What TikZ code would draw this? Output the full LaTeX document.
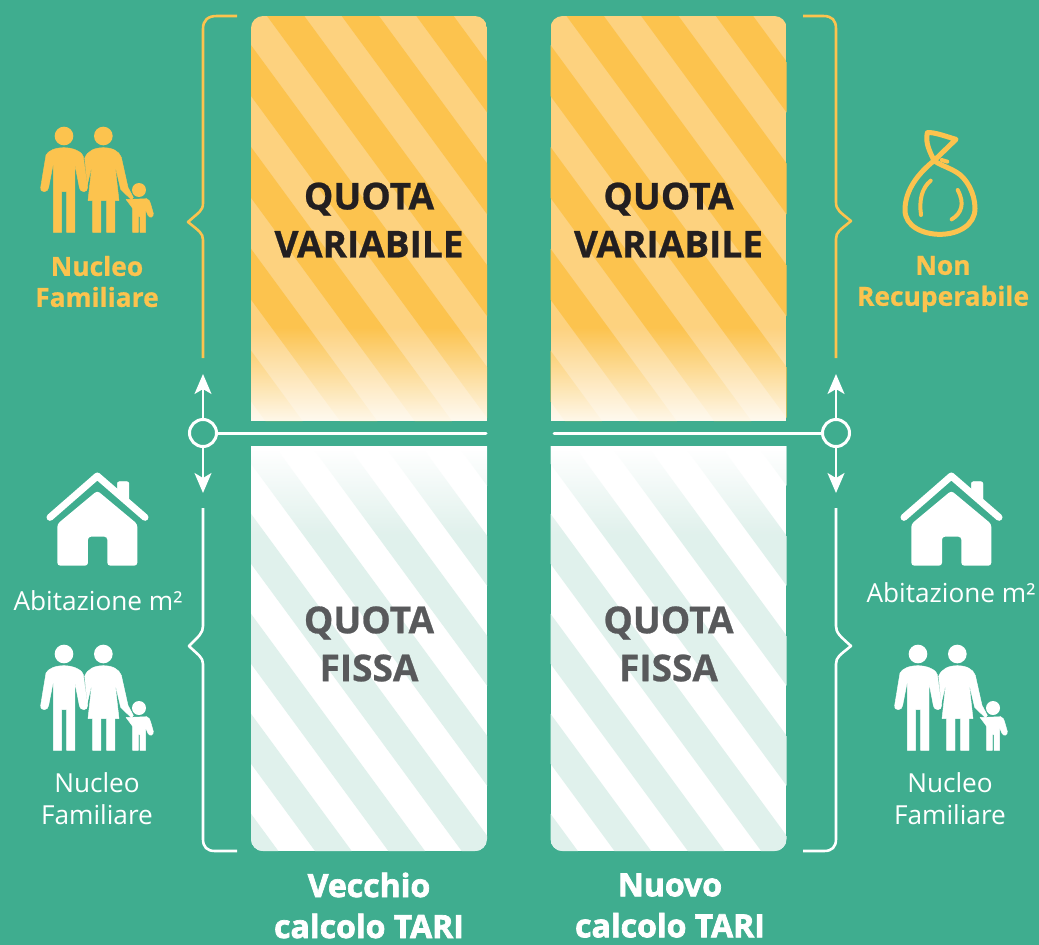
\documentclass[tikz,border=0pt]{standalone}
\usepackage{fontspec}
\setmainfont{Open Sans}
\newfontfamily\xbold[FakeBold=2.2]{Open Sans Bold}
\newfontfamily\mbold[FakeBold=0.7]{Open Sans Bold}
\usetikzlibrary{arrows.meta}
\definecolor{bgG}{HTML}{3FAD8F}
\definecolor{ylw}{HTML}{FCC34E}
\definecolor{ylwL}{HTML}{FDD27F}
\definecolor{tnt}{HTML}{E0F1EC}
\definecolor{grayT}{HTML}{58595B}
\definecolor{darkT}{HTML}{231F20}
\tikzset{
  bline/.style={line width=2.6pt,line join=round,line cap=butt},
  iconfill/.style={fill=#1,draw=#1,line width=0.4pt,line join=round},
  qlabel/.style={align=center,inner sep=0pt,font=\fontsize{37}{48}\selectfont\mbold},
  ftitle/.style={align=center,inner sep=0pt,text=white,font=\fontsize{32}{41}\selectfont\xbold},
  ylabel/.style={align=center,inner sep=0pt,text=ylw,font=\fontsize{26.4}{31}\selectfont\mbold},
  wlabel/.style={align=center,inner sep=0pt,text=white,font=\fontsize{26.2}{32}\selectfont},
  ring/.style={circle,draw=white,line width=3pt,minimum size=27pt,inner sep=0pt},
  conn/.style={draw=white,line width=3pt,line cap=round},
  arr/.style={draw=white,line width=2pt,-{Stealth[length=20pt,width=17pt,inset=5pt]}},
}
\newcommand{\topcard}[1]{%
 \begin{scope}[shift={(#1,0)}]
  \begin{scope}
   \clip (251,421) -- (251,28) arc[start angle=180,end angle=90,x radius=12,y radius=-12] -- (475,16)
     arc[start angle=90,end angle=0,x radius=12,y radius=-12] -- (487,421) -- cycle;
   \fill[ylwL] (251,16) rectangle (487,421);
   \foreach \k in {-5,...,3}{
     \pgfmathsetmacro{\xa}{267+74.67*\k}
     \fill[ylw] (\xa,16) -- (\xa+37.33,16) -- (\xa+37.33+297,421) -- (\xa+297,421) -- cycle;
   }
   \foreach \yy in {327,...,420}{
     \pgfmathsetmacro{\op}{0.88*(\yy-327)/94}
     \fill[white,opacity=\op] (251,\yy) rectangle (487,\yy+1);
   }
  \end{scope}
 \end{scope}}
\newcommand{\botcard}[1]{%
 \begin{scope}[shift={(#1,0)}]
  \begin{scope}
   \clip (251,446) -- (251,839) arc[start angle=180,end angle=270,x radius=12,y radius=-12] -- (475,851)
     arc[start angle=270,end angle=360,x radius=12,y radius=-12] -- (487,446) -- cycle;
   \fill[white] (251,446) rectangle (487,851);
   \foreach \k in {-1,...,7}{
     \pgfmathsetmacro{\xa}{315+73.33*\k}
     \fill[tnt] (\xa,851) -- (\xa+36.67,851) -- (\xa+36.67-297,446) -- (\xa-297,446) -- cycle;
   }
   \foreach \yy in {446,...,535}{
     \pgfmathsetmacro{\op}{min(1,(536-\yy)/86)}
     \fill[white,opacity=\op] (251,\yy) rectangle (487,\yy+1);
   }
  \end{scope}
 \end{scope}}
\newcommand{\famicon}[3]{%
 \begin{scope}[shift={(#1,#2)},x=0.33333pt,y=-0.33333pt]
  \fill[#3] (192,108) circle[radius=28] (310,108) circle[radius=28] (417,270) circle[radius=21];
  \path[iconfill=#3] (122,262) .. controls (122,272) and (126,275) .. (133,275) .. controls (140,275) and (145,270) .. (146,262)
    -- (160,190) -- (160,397) -- (185,397) -- (185,275) -- (200,275) -- (200,397) -- (225,397) -- (225,195)
    -- (238,262) .. controls (240,272) and (246,275) .. (252,275) .. controls (258,275) and (263,270) .. (263,262)
    -- (254,200) .. controls (252,190) and (252,180) .. (250,170) .. controls (244,152) and (215,143) .. (192,143)
    .. controls (165,143) and (145,152) .. (138,165) -- cycle;
  \path[iconfill=#3] (254,175) .. controls (262,152) and (285,143) .. (310,143) .. controls (335,143) and (357,152) .. (364,172)
    -- (384,262) -- (400,292) -- (395,300) -- (362,268) -- (345,195) -- (357,302) -- (345,302) -- (345,397) -- (320,397) -- (320,302)
    -- (303,302) -- (303,397) -- (278,397) -- (278,302) -- (264,302) -- (276,195) -- (262,255) -- cycle;
  \path[iconfill=#3] (392,298) -- (440,296) .. controls (448,298) and (450,305) .. (452,312) -- (460,340)
    .. controls (462,352) and (448,356) .. (444,346) -- (437,330) -- (437,397) -- (420,397) -- (420,350) -- (415,350) -- (415,397) -- (398,397) -- (398,325) -- (378,298) -- cycle;
 \end{scope}}
\newcommand{\houseicon}[1]{%
 \begin{scope}[shift={(#1,460)},x=0.33333pt,y=-0.33333pt]
  \path[fill=white,draw=white,line width=0.4pt,line join=round,rounded corners=2pt] (352,100) -- (352,65) -- (387,65) -- (387,125) -- cycle;
  \draw[white,line width=7pt,line cap=round,line join=round] (150,172) -- (292,48) -- (435,172);
  \fill[white,rounded corners=3pt] (172,192) -- (292,92) -- (412,192) -- (412,317) -- (322,317) -- (322,230) -- (264,230) -- (264,317) -- (172,317) -- cycle;
 \end{scope}}
\begin{document}
\begin{tikzpicture}[x=1pt,y=-1pt]
\useasboundingbox (0,0) rectangle (1039,945);
\fill[bgG] (0,0) rectangle (1039,945);
% cards
\topcard{0}\topcard{299.5}
\botcard{0}\botcard{299.5}
% card labels
\node[qlabel,text=darkT] (qv1) at (369,220) {QUOTA\\VARIABILE};
\node[qlabel,text=darkT] (qv2) at (668.5,220) {QUOTA\\VARIABILE};
\node[qlabel,text=grayT] (qf1) at (369,644) {QUOTA\\FISSA};
\node[qlabel,text=grayT] (qf2) at (668.5,644) {QUOTA\\FISSA};
\node[ftitle] (t1) at (369,905.5) {Vecchio\\calcolo TARI};
\node[ftitle] (t2) at (670,905.5) {Nuovo\\calcolo TARI};
% braces
\draw[bline,ylw] (237,16) -- (217,16) .. controls (208,16) and (203,20) .. (203,29) -- (203,203) .. controls (203,211) and (199,212) .. (188,222) .. controls (199,231) and (203,233) .. (203,240) -- (203,358);
\draw[bline,ylw] (803,16) -- (823,16) .. controls (832,16) and (836,20) .. (836,29) -- (836,202) .. controls (836,210) and (840,212) .. (851,221) .. controls (840,230) and (836,232) .. (836,239) -- (836,358);
\draw[bline,white] (203,508) -- (203,626) .. controls (203,633) and (199,636) .. (189,646) .. controls (198,655) and (203,657) .. (203,664) -- (203,839) .. controls (203,847) and (207,851) .. (215,851) -- (237,851);
\draw[bline,white] (836,508) -- (836,626) .. controls (836,633) and (840,636) .. (851,646) .. controls (840,655) and (836,657) .. (836,664) -- (836,839) .. controls (836,847) and (832,851) .. (824,851) -- (803,851);
% rings and connectors
\node[ring] (cL) at (203,433) {};
\node[ring] (cR) at (836,433) {};
\coordinate (eL) at (486,433);
\coordinate (eR) at (554,433);
\coordinate (upL) at (203,374);
\coordinate (dnL) at (203,493);
\coordinate (upR) at (836,374);
\coordinate (dnR) at (836,493);
\draw[conn] (cL.east) -- (eL);
\draw[conn] (cR.west) -- (eR);
\draw[arr] (cL.north) -- (upL);
\draw[arr] (cL.south) -- (dnL);
\draw[arr] (cR.north) -- (upR);
\draw[arr] (cR.south) -- (dnR);
% icons
\famicon{0}{100}{ylw}
\famicon{0}{618}{white}
\famicon{854}{618}{white}
\houseicon{0}
\houseicon{854}
% bag
\begin{scope}[shift={(790,110)},x=0.33333pt,y=-0.33333pt]
 \draw[ylw,line width=5pt,line cap=round,line join=round]
   (432,152) .. controls (385,190) and (345,240) .. (345,300) .. controls (345,350) and (400,373) .. (450,373)
   .. controls (505,373) and (555,345) .. (555,295) .. controls (555,250) and (530,205) .. (500,187) .. controls (475,172) and (450,165) .. (432,152)
   .. controls (420,125) and (405,100) .. (412,68) .. controls (430,65) and (470,80) .. (498,88) -- cycle;
 \draw[ylw,line width=4pt,line cap=round] (455,150) -- (472,155);
 \draw[ylw,line width=4pt,line cap=round] (422,212) .. controls (395,235) and (387,270) .. (393,315);
 \draw[ylw,line width=4pt,line cap=round] (503,240) .. controls (525,280) and (515,310) .. (485,328);
\end{scope}
% side labels
\node[ylabel] (l1) at (97,281.5) {Nucleo\\Familiare};
\node[ylabel] (l2) at (943,284) {Non\\Recuperabile};
\node[wlabel] (l3) at (98,601) {Abitazione m²};
\node[wlabel] (l4) at (951,593) {Abitazione m²};
\node[wlabel] (l5) at (97,799) {Nucleo\\Familiare};
\node[wlabel] (l6) at (950,799) {Nucleo\\Familiare};
\end{tikzpicture}
\end{document}
